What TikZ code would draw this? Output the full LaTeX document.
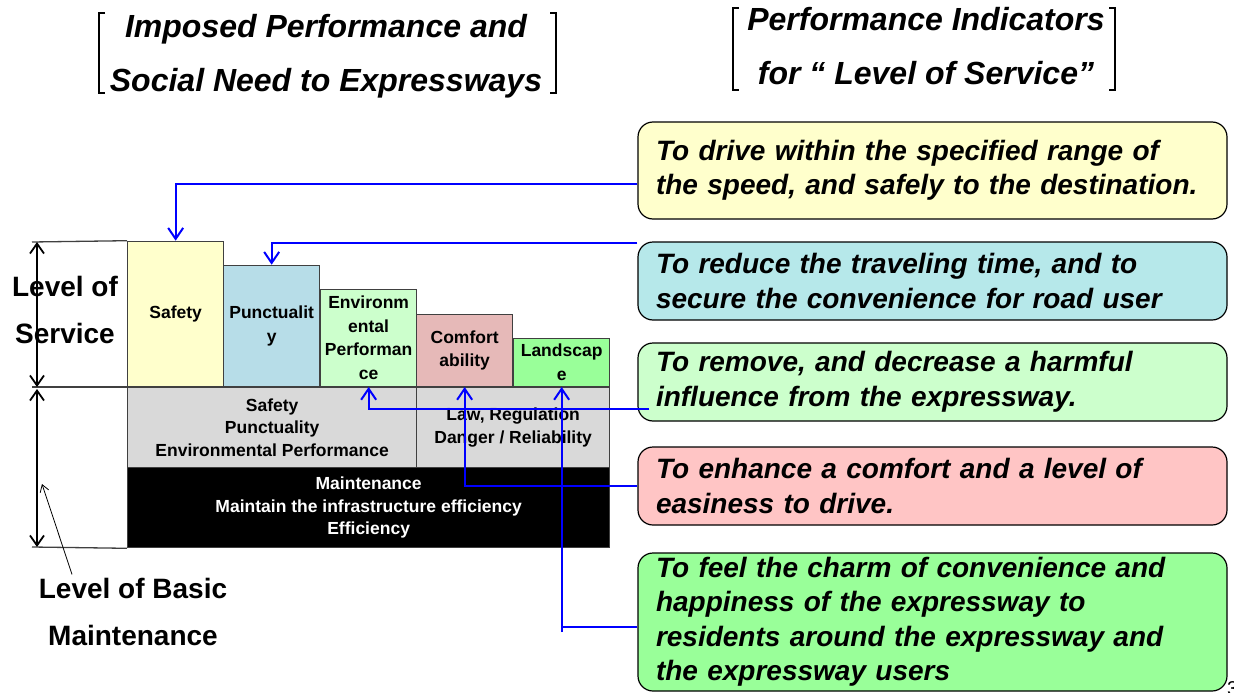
\documentclass[tikz,border=0pt]{standalone}
\usepackage{fontspec}
\setmainfont{Liberation Sans}
\usetikzlibrary{arrows.meta}
\hyphenpenalty=10000

\definecolor{safetyfill}{HTML}{FFFFCC}
\definecolor{punctfill}{HTML}{B7DDE8}
\definecolor{envfill}{HTML}{CCFFCC}
\definecolor{comffill}{HTML}{E6B9B8}
\definecolor{landfill}{HTML}{99FF99}
\definecolor{basefill}{HTML}{D9D9D9}
\definecolor{timefill}{HTML}{B6E8EA}
\definecolor{easefill}{HTML}{FFC5C5}
\definecolor{edge}{HTML}{404040}

\begin{document}
\begin{tikzpicture}[x=1pt,y=-1pt,
  tier/.style={draw=edge,line width=1.3pt,anchor=south west,inner sep=0,minimum width=96pt,align=center,font=\fontsize{17.5}{23.5}\selectfont\bfseries},
  base/.style={draw=edge,line width=1.3pt,anchor=north west,inner sep=0,minimum height=80pt,align=center,font=\fontsize{17.5}{22.5}\selectfont\bfseries},
  goal/.style={draw,line width=1.2pt,rounded corners=15pt,minimum width=589pt,text width=553pt,align=left,inner xsep=18pt,inner ysep=0pt,font=\fontsize{28}{34.5}\selectfont\bfseries\itshape},
  heading/.style={align=center,font=\fontsize{32}{54}\selectfont\bfseries\itshape},
  side/.style={align=center,font=\fontsize{28}{47.5}\selectfont\bfseries},
  link/.style={draw=blue,line width=2pt,-{Straight Barb[length=11pt,width=15pt]}},
  span/.style={line width=1.8pt,{Straight Barb[length=10pt,width=14pt]}-{Straight Barb[length=10pt,width=14pt]}},
  bracket/.style={line width=1.5pt}]
\useasboundingbox (0,0) rectangle (1234,693);

% headings
\node[heading] (imposed) at (326,56) {Imposed Performance and\\Social Need to Expressways};
\node[heading] (indicators) at (926,46) {Performance Indicators\\for “ Level of Service”};
\draw[bracket] (105,13) -- (99,13) -- (99,93) -- (105,93);
\draw[bracket] (550,13) -- (556,13) -- (556,93) -- (550,93);
\draw[bracket] (739,8) -- (733,8) -- (733,90) -- (739,90);
\draw[bracket] (1109,8) -- (1115,8) -- (1115,90) -- (1109,90);

% level of service
\foreach \n/\x/\h/\c/\t in {safety/127/145/safetyfill/Safety,
    punct/223/121/punctfill/{Punctualit\\y},
    env/320/97/envfill/{Environm\\ental\\Performan\\ce},
    comf/416/72/comffill/{Comfort\\ability},
    land/513/48/landfill/{Landscap\\e}}
  \node[tier,fill=\c,minimum height=\h pt] (\n) at (\x,387) {\t};

% basic maintenance
\node[base,fill=basefill,minimum width=289pt] (social) at (127,387) {Safety\\Punctuality\\Environmental Performance};
\node[base,fill=basefill,minimum width=193pt] (law) at (416,387) {Law, Regulation\\Danger / Reliability};
\node[base,fill=black,text=white,minimum width=482pt] (upkeep) at (127,467) {Maintenance\\Maintain the infrastructure efficiency\\Efficiency};

% left scale
\coordinate (svctop) at (32,242);
\coordinate (svcbot) at (32,387);
\coordinate (mntbot) at (32,547);
\draw[edge,line width=1.3pt] (svctop) -- (safety.north west);
\draw[edge,line width=1.3pt] (svcbot) -- (safety.south west);
\draw[edge,line width=1.3pt] (mntbot) -- (upkeep.south west);
\draw[span] ([xshift=5pt]svctop) -- ([xshift=5pt]svcbot);
\draw[span] ([xshift=5pt,yshift=-2pt]svcbot) -- ([xshift=5pt]mntbot);
\node[side] (service) at (65,310) {Level of\\Service};
\node[side] (basic) at (133,612) {Level of Basic\\Maintenance};
\coordinate (basicptr) at (42,484);
\draw[line width=0.8pt,-{Straight Barb[length=7pt,width=9pt]}] (basic.north -| 72,0) -- (basicptr);

% indicators
\node[goal,fill=safetyfill,minimum height=97pt] (speed) at (932.5,170.5) {To drive within the specified range of\\the speed, and safely to the destination.};
\node[goal,fill=timefill,minimum height=78pt] (time) at (932.5,281) {To reduce the traveling time, and to\\secure the convenience for road user};
\node[goal,fill=envfill,minimum height=78pt] (harm) at (932.5,382) {To remove, and decrease a harmful\\influence from the expressway.};
\node[goal,fill=easefill,minimum height=78pt] (ease) at (932.5,486) {To enhance a comfort and a level of\\easiness to drive.};
\node[goal,fill=landfill,minimum height=138pt] (charm) at (932.5,622) {To feel the charm of convenience and\\happiness of the expressway to\\residents around the expressway and\\the expressway users};
\node[anchor=north west,inner sep=0,font=\fontsize{20}{20}\selectfont] (pagenum) at (1227,681) {3};

% links
\draw[link] (speed.west |- 0,184) -| (safety.north);
\draw[link] (time.west |- 0,243) -| (punct.north);
\draw[link] ([xshift=12pt]harm.west |- 0,409) -| (env.south);
\draw[link] (ease.west) -| (comf.south);
\draw[blue,line width=2pt] (charm.west |- 0,627) -- (land.south |- 0,627);
\draw[link] (land.south |- 0,632) -- (land.south);
\end{tikzpicture}
\end{document}
